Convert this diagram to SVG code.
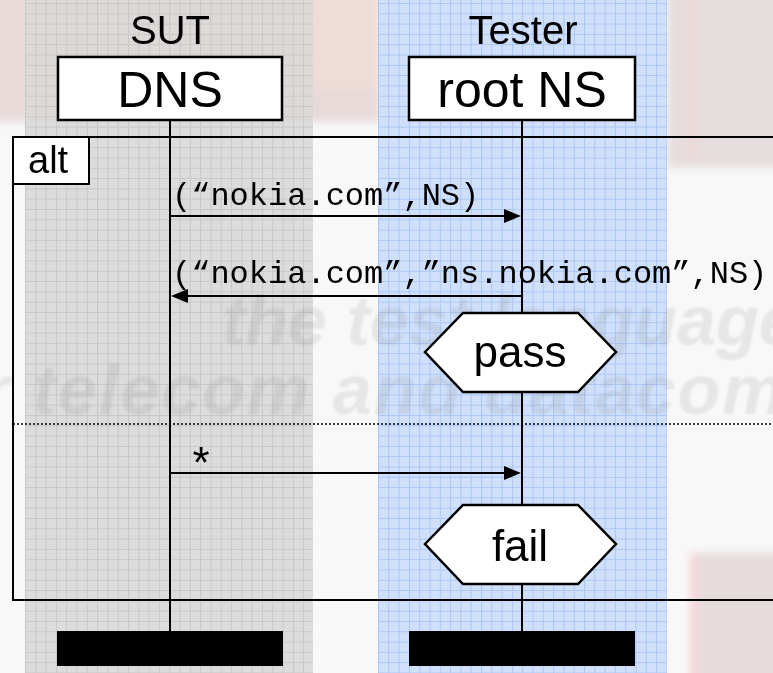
<svg xmlns="http://www.w3.org/2000/svg" width="773" height="673" viewBox="0 0 773 673">
<style>
.lbl{font-family:"Liberation Sans",Arial,sans-serif;fill:#000}
.mono{font-family:"Liberation Mono","Courier New",monospace;font-size:32px;fill:#000}
.ln{stroke:#000;stroke-width:2;fill:none}
.box{fill:#fff;stroke:#000;stroke-width:2.5}
.wm{font-family:"Liberation Sans",Arial,sans-serif;font-weight:bold;font-style:italic;font-size:70px;fill:#8a8a8a;opacity:0.16}
</style>
<defs>
<pattern id="gg" x="25" y="3" width="10.3" height="10.3" patternUnits="userSpaceOnUse">
<rect width="10.3" height="10.3" fill="#dcdcdc"/>
<path d="M0.5,0V10.3M0,0.5H10.3" stroke="#c8c8c8" stroke-width="1"/>
</pattern>
<pattern id="bg" x="378" y="3" width="10.3" height="10.3" patternUnits="userSpaceOnUse">
<rect width="10.3" height="10.3" fill="#d0e0fb"/>
<path d="M0.5,0V10.3M0,0.5H10.3" stroke="#abc7f5" stroke-width="1"/>
</pattern>
<filter id="soft" x="-5%" y="-20%" width="110%" height="140%">
<feGaussianBlur stdDeviation="1.2"/>
</filter>
<filter id="softer" x="-10%" y="-10%" width="120%" height="120%">
<feGaussianBlur stdDeviation="4"/>
</filter>
</defs>
<g id="background">
<rect x="0" y="0" width="773" height="673" fill="#f8f8f8"/>
<g filter="url(#softer)">
<rect x="-10" y="-10" width="390" height="132" fill="#e9dada"/>
<rect x="313" y="-10" width="65" height="95" fill="#f0dcd6"/>
<rect x="667" y="-10" width="116" height="178" fill="#e6dede"/>
<rect x="690" y="-10" width="6" height="170" fill="#f2d4d4"/>
<rect x="690" y="553" width="93" height="130" fill="#e6dcdc"/>
<rect x="690" y="553" width="8" height="130" fill="#f4d6d6"/>
</g>
<rect x="25" y="0" width="288" height="673" fill="url(#gg)"/>
<rect x="25" y="0" width="288" height="122" fill="#e8c8c8" opacity="0.12"/>
<rect x="378" y="0" width="289" height="673" fill="url(#bg)"/>
<g filter="url(#soft)">
<text class="wm" x="222" y="345">the test language</text>
<text class="wm" x="-88" y="414" letter-spacing="2">for telecom and datacom</text>
</g>
</g>
<g id="SUT">
<text class="lbl" x="170" y="44" font-size="40" text-anchor="middle">SUT</text>
<rect class="box" x="58" y="57" width="224" height="63"/>
<text class="lbl" x="170" y="107" font-size="50" text-anchor="middle">DNS</text>
<line class="ln" x1="170" y1="120" x2="170" y2="632"/>
<rect x="57" y="631" width="226" height="35" fill="#000"/>
</g>
<g id="Tester">
<text class="lbl" x="523" y="44" font-size="40" text-anchor="middle">Tester</text>
<rect class="box" x="409" y="57" width="226" height="63"/>
<text class="lbl" x="522" y="107" font-size="50" text-anchor="middle">root NS</text>
<line class="ln" x1="522" y1="120" x2="522" y2="632"/>
<rect x="409" y="631" width="226" height="35" fill="#000"/>
</g>
<g id="alt-frame">
<rect class="ln" x="13" y="137" width="800" height="463"/>
<rect x="13" y="137" width="76" height="47" fill="#fff" stroke="#000" stroke-width="2"/>
<text class="lbl" x="28" y="173" font-size="38">alt</text>
<line x1="13" y1="424" x2="773" y2="424" stroke="#000" stroke-width="1.5" stroke-dasharray="2 2"/>
</g>
<g id="connectors">
<line class="ln" x1="170" y1="216" x2="506" y2="216"/>
<polygon points="521,216 504,209 504,223" fill="#000"/>
<text class="mono" x="172" y="205">(“nokia.com”,NS)</text>
<line class="ln" x1="186" y1="296" x2="522" y2="296"/>
<polygon points="171,296 188,289 188,303" fill="#000"/>
<text class="mono" x="172" y="283">(“nokia.com”,”ns.nokia.com”,NS)</text>
<line class="ln" x1="170" y1="473" x2="506" y2="473"/>
<polygon points="521,473 504,466 504,480" fill="#000"/>
<text class="lbl" x="201" y="478" font-size="44" text-anchor="middle">*</text>
</g>
<g id="pass">
<polygon class="box" points="425,352 463,313 578,313 616,352 578,392 463,392"/>
<text class="lbl" x="520" y="367" font-size="44" text-anchor="middle">pass</text>
</g>
<g id="fail">
<polygon class="box" points="425,544 463,505 578,505 616,544 578,584 463,584"/>
<text class="lbl" x="520" y="561" font-size="44" text-anchor="middle">fail</text>
</g>
</svg>
